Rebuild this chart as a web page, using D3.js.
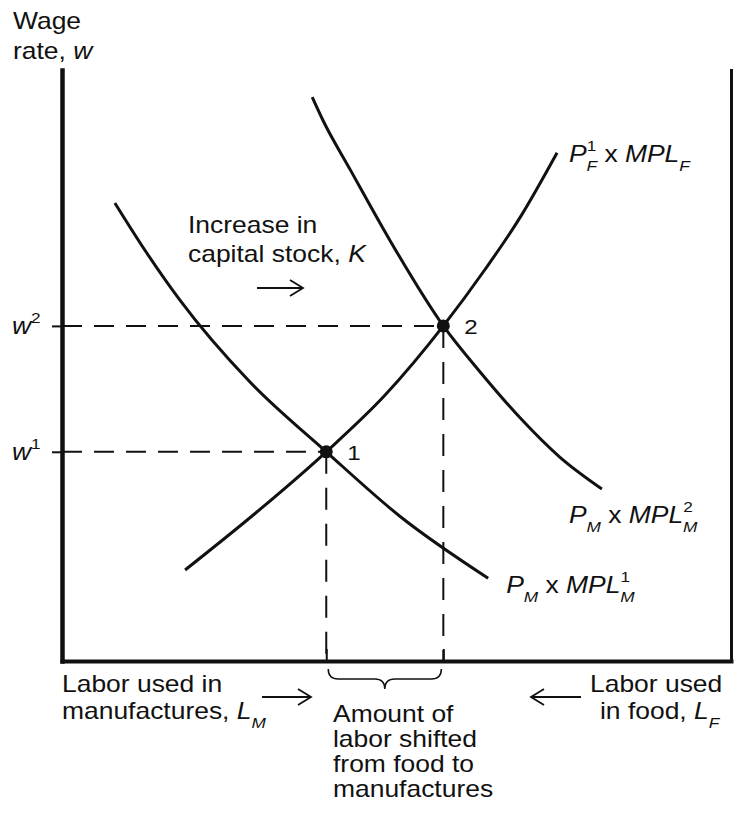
<!DOCTYPE html>
<html>
<head>
<meta charset="utf-8">
<script src="https://cdn.jsdelivr.net/npm/d3@7"></script>
<style>
  body { margin: 0; background: #fff; }
  text { font-family: "Liberation Sans", Arial, sans-serif; fill: #111; }
</style>
</head>
<body>
<div id="chart"></div>
<script>
// labor used in manufactures (x, 0-100) and wage rate (y, 0-100)
const eqNames = ["1", "2"];
const eqLabor = [39.5, 57.0];
const eqWage = [35.4, 56.7];

const mplM1Labor = [7.9, 12.4, 17.6, 28.1, 39.5, 50.5, 63.7];
const mplM1Wage = [77.5, 69.5, 61.1, 47.2, 35.4, 24.5, 14.0];

const mplM2Labor = [37.4, 39.0, 43.1, 49.0, 57.0, 62.5, 68.5, 74.4, 80.7];
const mplM2Wage = [95.4, 91.5, 83.1, 71.2, 56.7, 48.9, 41.1, 34.5, 29.1];

const mplFLabor = [18.4, 28.9, 39.5, 48.3, 57.0, 63.2, 68.5, 74.0];
const mplFWage = [15.4, 25.0, 35.4, 45.0, 56.7, 66.2, 75.1, 86.0];

const width = 734, height = 813;
const margin = { top: 70, right: 3, bottom: 152, left: 62 };
const SX = 1.15; // the scanned lettering is a bit wider than Arial

const x = d3.scaleLinear().domain([0, 100]).range([margin.left, width - margin.right]);
const y = d3.scaleLinear().domain([0, 100]).range([height - margin.bottom, margin.top]);

const svg = d3.select("#chart").append("svg")
  .attr("width", width)
  .attr("height", height);

// text with italic letters, sub- and superscripts
function rich(px, py, parts, size = 23) {
  const t = svg.append("text")
    .attr("transform", `translate(${px},${py}) scale(${SX},1)`)
    .attr("font-size", size);
  let base = 0;
  parts.forEach(([str, kind = ""]) => {
    const shift = kind.includes("sup") ? -11 : kind.includes("sub") ? 9 : 0;
    const ts = t.append("tspan").attr("dy", shift - base).text(str);
    base = shift;
    if (kind.startsWith("i")) ts.attr("font-style", "italic");
    if (shift) ts.attr("font-size", 15);
    if (kind.includes("back")) ts.attr("dx", -8.5);
  });
  return t;
}

function arrow(x1, x2, yy) {
  const dir = Math.sign(x2 - x1);
  svg.append("path")
    .attr("d", `M${x1},${yy}H${x2}M${x2 - dir * 13},${yy - 8}L${x2},${yy}L${x2 - dir * 13},${yy + 8}`)
    .attr("fill", "none")
    .attr("stroke", "#111")
    .attr("stroke-width", 1.8);
}

// dashed guides
const guides = svg.append("g")
  .attr("fill", "none")
  .attr("stroke", "#111")
  .attr("stroke-width", 2);

guides.selectAll(".h").data(eqNames).join("line")
  .attr("x1", x(0)).attr("x2", (d, i) => x(eqLabor[i]))
  .attr("y1", (d, i) => y(eqWage[i])).attr("y2", (d, i) => y(eqWage[i]))
  .attr("stroke-dasharray", "20,12");

guides.selectAll(".v").data(eqNames).join("line")
  .attr("x1", (d, i) => x(eqLabor[i])).attr("x2", (d, i) => x(eqLabor[i]))
  .attr("y1", (d, i) => y(eqWage[i])).attr("y2", y(0))
  .attr("stroke-dasharray", "22,14");

// curves
const line = d3.line()
  .x(d => x(d[0]))
  .y(d => y(d[1]))
  .curve(d3.curveMonotoneX);

const curves = [
  d3.zip(mplM1Labor, mplM1Wage),
  d3.zip(mplM2Labor, mplM2Wage),
  d3.zip(mplFLabor, mplFWage)
];

svg.append("g").selectAll("path").data(curves).join("path")
  .attr("d", line)
  .attr("fill", "none")
  .attr("stroke", "#111")
  .attr("stroke-width", 3);

// axes and frame
const left = svg.append("g")
  .attr("transform", `translate(${x(0)},0)`)
  .call(d3.axisLeft(y).tickValues(eqWage).tickSize(10).tickSizeOuter(0).tickFormat(() => ""));
left.select(".domain").attr("stroke-width", 4.5);

const bottom = svg.append("g")
  .attr("transform", `translate(0,${y(0)})`)
  .call(d3.axisBottom(x).tickValues(eqLabor).tickSize(-12).tickSizeOuter(0).tickFormat(() => ""));
bottom.select(".domain").attr("stroke-width", 4);

const right = svg.append("g")
  .attr("transform", `translate(${x(100)},0)`)
  .call(d3.axisRight(y).tickValues([]).tickSizeOuter(0));
right.select(".domain").attr("stroke-width", 3);

svg.selectAll(".tick line").attr("stroke", "#111").attr("stroke-width", 2);
svg.selectAll(".domain").attr("stroke", "#111").attr("stroke-linecap", "square");

// equilibrium points
svg.append("g").selectAll("circle").data(eqNames).join("circle")
  .attr("cx", (d, i) => x(eqLabor[i]))
  .attr("cy", (d, i) => y(eqWage[i]))
  .attr("r", 6.5)
  .attr("fill", "#111");

eqNames.forEach((n, i) => {
  rich(x(eqLabor[i]) + 21, y(eqWage[i]) + 8, [[n]], 21);
  rich(12, y(eqWage[i]) + 8, [["w", "i"], [n, "sup"]]);
});

// axis titles
rich(13, 29, [["Wage"]]);
rich(13, 59, [["rate, "], ["w", "i"]]);

// curve labels, anchored at the curve ends
const endF = d3.zip(mplFLabor, mplFWage).pop();
const endM2 = d3.zip(mplM2Labor, mplM2Wage).pop();
const endM1 = d3.zip(mplM1Labor, mplM1Wage).pop();

rich(x(endF[0]) + 12, y(endF[1]) + 9,
  [["P", "i"], ["1", "sup"], ["F", "isub back"], [" x "], ["MPL", "i"], ["F", "isub"]]);
rich(x(endM2[0]) - 33, y(endM2[1]) + 34,
  [["P", "i"], ["M", "isub"], [" x "], ["MPL", "i"], ["2", "sup"], ["M", "isub back"]]);
rich(x(endM1[0]) + 18, y(endM1[1]) + 15,
  [["P", "i"], ["M", "isub"], [" x "], ["MPL", "i"], ["1", "sup"], ["M", "isub back"]]);

// shift annotation
rich(188, 233, [["Increase in"]]);
rich(188, 262, [["capital stock, "], ["K", "i"]]);
arrow(257, 303, 288);

// bottom annotations
rich(62, 692, [["Labor used in"]]);
rich(62, 719, [["manufactures, "], ["L", "i"], ["M", "isub"]]);
arrow(262, 311, 697);

rich(590, 692, [["Labor used"]]);
rich(600, 719, [["in food, "], ["L", "i"], ["F", "isub"]]);
arrow(581, 531, 697);

["Amount of", "labor shifted", "from food to", "manufactures"].forEach((s, i) => {
  rich(333, 722 + i * 25, [[s]]);
});

// brace under the shifted labor
const bx1 = x(eqLabor[0]) + 2, bx2 = x(eqLabor[1]) - 2, by = y(0) + 8, bh = 10;
const bm = (bx1 + bx2) / 2;
svg.append("path")
  .attr("d", `M${bx1},${by}q0,${bh} ${bh},${bh}H${bm - bh}q${bh},0 ${bh},${bh}` +
    `q0,${-bh} ${bh},${-bh}H${bx2 - bh}q${bh},0 ${bh},${-bh}`)
  .attr("fill", "none")
  .attr("stroke", "#111")
  .attr("stroke-width", 1.5);
</script>
</body>
</html>
